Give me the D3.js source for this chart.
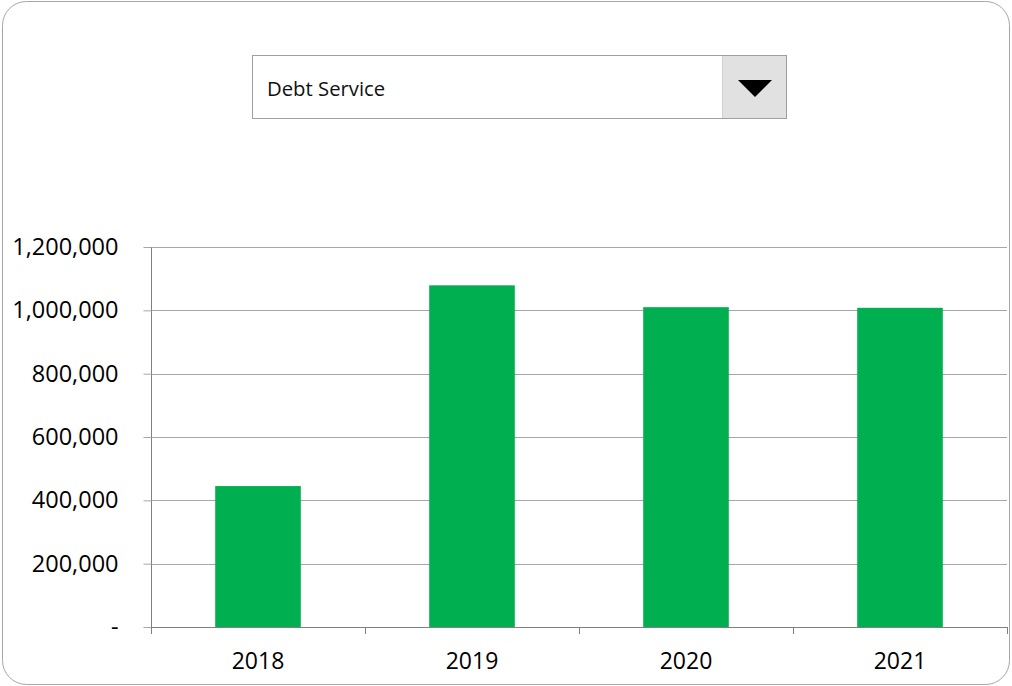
<!DOCTYPE html>
<html>
<head>
<meta charset="utf-8">
<script src="https://cdn.jsdelivr.net/npm/d3@7"></script>
<style>
  body { margin: 0; background: #fff; }
  text { font-family: "Open Sans", "Noto Sans", sans-serif; }
</style>
</head>
<body>
<script>
// chart data
const years = ['2018', '2019', '2020', '2021']
const debtService = [445000, 1079000, 1010000, 1008000]
const yTicks = [0, 200000, 400000, 600000, 800000, 1000000, 1200000]
const selected = 'Debt Service'

const m = { width: 1012, height: 686 }
const plot = { left: 151, right: 1007, top: 247, bottom: 627 }

const svg = d3.select('body').append('svg')
    .attr('width', m.width)
    .attr('height', m.height)

// outer rounded frame
svg.append('rect')
    .attr('x', 2.5).attr('y', 1.5)
    .attr('width', 1007).attr('height', 683)
    .attr('rx', 24)
    .attr('fill', '#fff')
    .attr('stroke', '#a6a6a6')

// dropdown box
const dd = svg.append('g')
dd.append('rect')
    .attr('x', 252.5).attr('y', 55.5)
    .attr('width', 534).attr('height', 63)
    .attr('fill', '#fff')
    .attr('stroke', '#a0a0a0')
dd.append('rect')
    .attr('x', 723).attr('y', 56)
    .attr('width', 63).attr('height', 62)
    .attr('fill', '#e1e1e1')
dd.append('line')
    .attr('x1', 722.5).attr('x2', 722.5)
    .attr('y1', 56).attr('y2', 118)
    .attr('stroke', '#d0d0d0')
dd.append('path')
    .attr('d', 'M738,80 L772,80 L755,97 Z')
    .attr('fill', '#000')
dd.append('text')
    .attr('x', 267).attr('y', 96)
    .attr('font-size', 20.3)
    .attr('fill', '#111')
    .text(selected)

const x = d3.scaleBand()
    .domain(years)
    .range([plot.left, plot.right])
    .paddingInner(0.6)
    .paddingOuter(0.3)

const y = d3.scaleLinear()
    .domain([0, 1200000])
    .range([plot.bottom, plot.top])

// gridlines
svg.append('g')
    .selectAll('line')
    .data(yTicks.filter(d => d > 0))
    .enter()
    .append('line')
    .attr('x1', plot.left).attr('x2', plot.right)
    .attr('y1', d => Math.round(y(d)) + 0.5)
    .attr('y2', d => Math.round(y(d)) + 0.5)
    .attr('stroke', '#a6a6a6')

// bars
svg.append('g')
    .selectAll('rect')
    .data(debtService)
    .enter()
    .append('rect')
    .attr('x', (d, i) => x(years[i]))
    .attr('width', x.bandwidth())
    .attr('y', d => y(d))
    .attr('height', d => y(0) - y(d))
    .attr('fill', '#00b050')

// y axis
const yAxis = svg.append('g')
    .attr('transform', `translate(${plot.left + 0.5},0)`)
    .call(d3.axisLeft(y)
        .tickValues(yTicks)
        .tickSize(8)
        .tickPadding(25)
        .tickFormat(d => d === 0 ? '-' : d3.format(',')(d)))
yAxis.select('.domain').attr('stroke', '#808080').attr('d', `M0,${plot.top}V${plot.bottom + 6}`)
yAxis.selectAll('.tick line').attr('stroke', '#a6a6a6')
yAxis.selectAll('.tick text')
    .attr('font-size', 23.5)
    .attr('font-family', '"Open Sans", sans-serif')
    .attr('fill', '#000')

// x axis
const xAxis = svg.append('g')
xAxis.append('line')
    .attr('x1', plot.left).attr('x2', plot.right)
    .attr('y1', plot.bottom + 0.5).attr('y2', plot.bottom + 0.5)
    .attr('stroke', '#808080')
xAxis.selectAll('.xtick')
    .data(d3.range(years.length + 1))
    .enter()
    .append('line')
    .attr('class', 'xtick')
    .attr('x1', i => Math.round(plot.left + i * x.step()) + 0.5)
    .attr('x2', i => Math.round(plot.left + i * x.step()) + 0.5)
    .attr('y1', plot.bottom)
    .attr('y2', plot.bottom + 7)
    .attr('stroke', '#808080')
xAxis.selectAll('.xlabel')
    .data(years)
    .enter()
    .append('text')
    .attr('class', 'xlabel')
    .attr('x', d => x(d) + x.bandwidth() / 2)
    .attr('y', 669)
    .attr('text-anchor', 'middle')
    .attr('font-size', 23)
    .attr('fill', '#000')
    .text(d => d)
</script>
</body>
</html>
